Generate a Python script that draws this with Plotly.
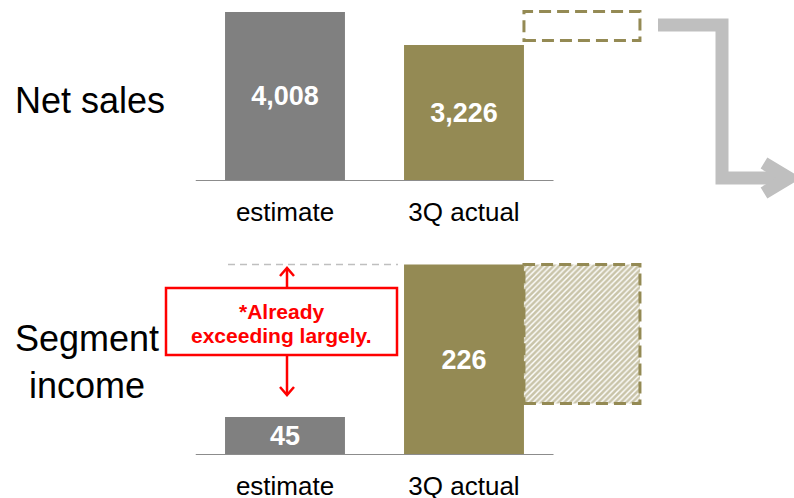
import plotly.graph_objects as go

W, H = 794, 498

# ---- data ----
categories = ["estimate", "3Q actual"]
net_sales = [4008, 3226]
segment_income = [45, 226]
# floating outlook blocks: [base, top]
net_sales_outlook = [3330, 4020]
segment_income_outlook = [61, 226]

GRAY = "#808080"
OLIVE = "#948A54"
ARROW_GRAY = "#BFBFBF"
RED = "#FF0000"
FONT = "Liberation Sans, Arial, sans-serif"
bar_colors = [GRAY, OLIVE]

cat_x = [0, 1]
outlook_x = 1.659
bar_w = 0.67
outlook_w = 0.648


def px(x):
    return x / W


def py(y):
    return 1 - y / H


def path(points):
    return "M " + " L ".join(f"{px(x)},{py(y)}" for x, y in points)


fig = go.Figure()

# Net sales panel
fig.add_trace(go.Bar(
    x=cat_x, y=net_sales, width=bar_w, marker=dict(color=bar_colors, line_width=0),
    text=[f"{v:,}" for v in net_sales], textposition="inside", insidetextanchor="middle",
    textangle=0, constraintext="none",
    textfont=dict(color="white", size=27, family=FONT, weight="bold"),
    xaxis="x", yaxis="y", hoverinfo="skip",
))
fig.add_trace(go.Bar(
    x=[outlook_x], y=[net_sales_outlook[1] - net_sales_outlook[0]], base=[net_sales_outlook[0]],
    width=outlook_w, marker=dict(color="white", line_width=0),
    xaxis="x", yaxis="y", hoverinfo="skip",
))

# Segment income panel
fig.add_trace(go.Bar(
    x=cat_x, y=segment_income, width=bar_w, marker=dict(color=bar_colors, line_width=0),
    text=[f"{v:,}" for v in segment_income], textposition="inside", insidetextanchor="middle",
    textangle=0, constraintext="none",
    textfont=dict(color="white", size=27, family=FONT, weight="bold"),
    xaxis="x2", yaxis="y2", hoverinfo="skip",
))
fig.add_trace(go.Bar(
    x=[outlook_x], y=[segment_income_outlook[1] - segment_income_outlook[0]],
    base=[segment_income_outlook[0]], width=outlook_w,
    marker=dict(color="white", line_width=0,
                pattern=dict(shape="/", fgcolor=OLIVE, bgcolor="white", size=4, solidity=0.65)),
    xaxis="x2", yaxis="y2", hoverinfo="skip",
))

shapes = []
# baselines
for xr, yr in (("x", "y"), ("x2", "y2")):
    shapes.append(dict(type="line", xref=xr, yref=yr, x0=-0.5, x1=1.5, y0=0, y1=0,
                       line=dict(color="#8C8C8C", width=2)))
# dashed outlines of the outlook blocks
for (b, t), xr, yr in ((net_sales_outlook, "x", "y"), (segment_income_outlook, "x2", "y2")):
    shapes.append(dict(type="rect", xref=xr, yref=yr,
                       x0=outlook_x - outlook_w / 2, x1=outlook_x + outlook_w / 2, y0=b, y1=t,
                       line=dict(color=OLIVE, width=3, dash="12px,6px")))
# reference level of the 3Q actual segment income
shapes.append(dict(type="line", xref="paper", yref="y2", x0=px(228), x1=px(398),
                   y0=segment_income[1], y1=segment_income[1],
                   line=dict(color=ARROW_GRAY, width=1.5, dash="7px,5px")))
# red call-out box and arrows
shapes.append(dict(type="rect", xref="paper", yref="paper",
                   x0=px(166), x1=px(397), y0=py(355), y1=py(288),
                   line=dict(color=RED, width=2.5), fillcolor="white"))
red_line = dict(color=RED, width=2.5)
shapes.append(dict(type="path", xref="paper", yref="paper",
                   path=path([(287, 288), (287, 268)]), line=red_line))
shapes.append(dict(type="path", xref="paper", yref="paper",
                   path=path([(280, 276), (287, 268), (294, 276)]), line=red_line))
shapes.append(dict(type="path", xref="paper", yref="paper",
                   path=path([(287, 355), (287, 395)]), line=red_line))
shapes.append(dict(type="path", xref="paper", yref="paper",
                   path=path([(280, 387), (287, 395), (294, 387)]), line=red_line))
# gray flow arrow
shapes.append(dict(type="path", xref="paper", yref="paper",
                   path=path([(658, 25), (722, 25), (722, 178), (786, 178)]),
                   line=dict(color=ARROW_GRAY, width=13)))
shapes.append(dict(type="path", xref="paper", yref="paper",
                   path=path([(764, 163), (789, 178), (764, 193)]),
                   line=dict(color=ARROW_GRAY, width=13)))


def label(text, x, y, size, color="black", weight="normal"):
    return dict(text=text, x=px(x), y=py(y), xref="paper", yref="paper",
                xanchor="center", yanchor="middle", align="center", showarrow=False,
                font=dict(size=size, color=color, family=FONT, weight=weight))


annotations = [
    label("Net sales", 90, 101, 36),
    label("Segment<br>income", 87, 362, 36),
    label("*Already", 282, 311, 21, RED, "bold"),
    label("exceeding largely.", 281, 335, 21, RED, "bold"),
]

x_domain = [px(195.5), px(678.8)]
xaxis_common = dict(domain=x_domain, range=[-0.5, 2.2], tickvals=cat_x, ticktext=categories,
                    tickfont=dict(size=26, color="black", family=FONT),
                    ticks="outside", ticklen=8, tickcolor="rgba(0,0,0,0)",
                    showgrid=False, zeroline=False, showline=False, fixedrange=True,
                    automargin=False)

fig.update_layout(
    width=W, height=H, autosize=False,
    margin=dict(l=0, r=0, t=0, b=0),
    paper_bgcolor="white", plot_bgcolor="white",
    showlegend=False, barmode="overlay",
    xaxis=dict(anchor="y", **xaxis_common),
    xaxis2=dict(anchor="y2", **xaxis_common),
    yaxis=dict(domain=[py(181), 1], range=[0, 4290], visible=False, fixedrange=True,
               automargin=False),
    yaxis2=dict(domain=[py(455), py(245)], range=[0, 249], visible=False, fixedrange=True,
                automargin=False),
    shapes=shapes,
    annotations=annotations,
    font=dict(family=FONT),
)

fig.write_html("out.html")
